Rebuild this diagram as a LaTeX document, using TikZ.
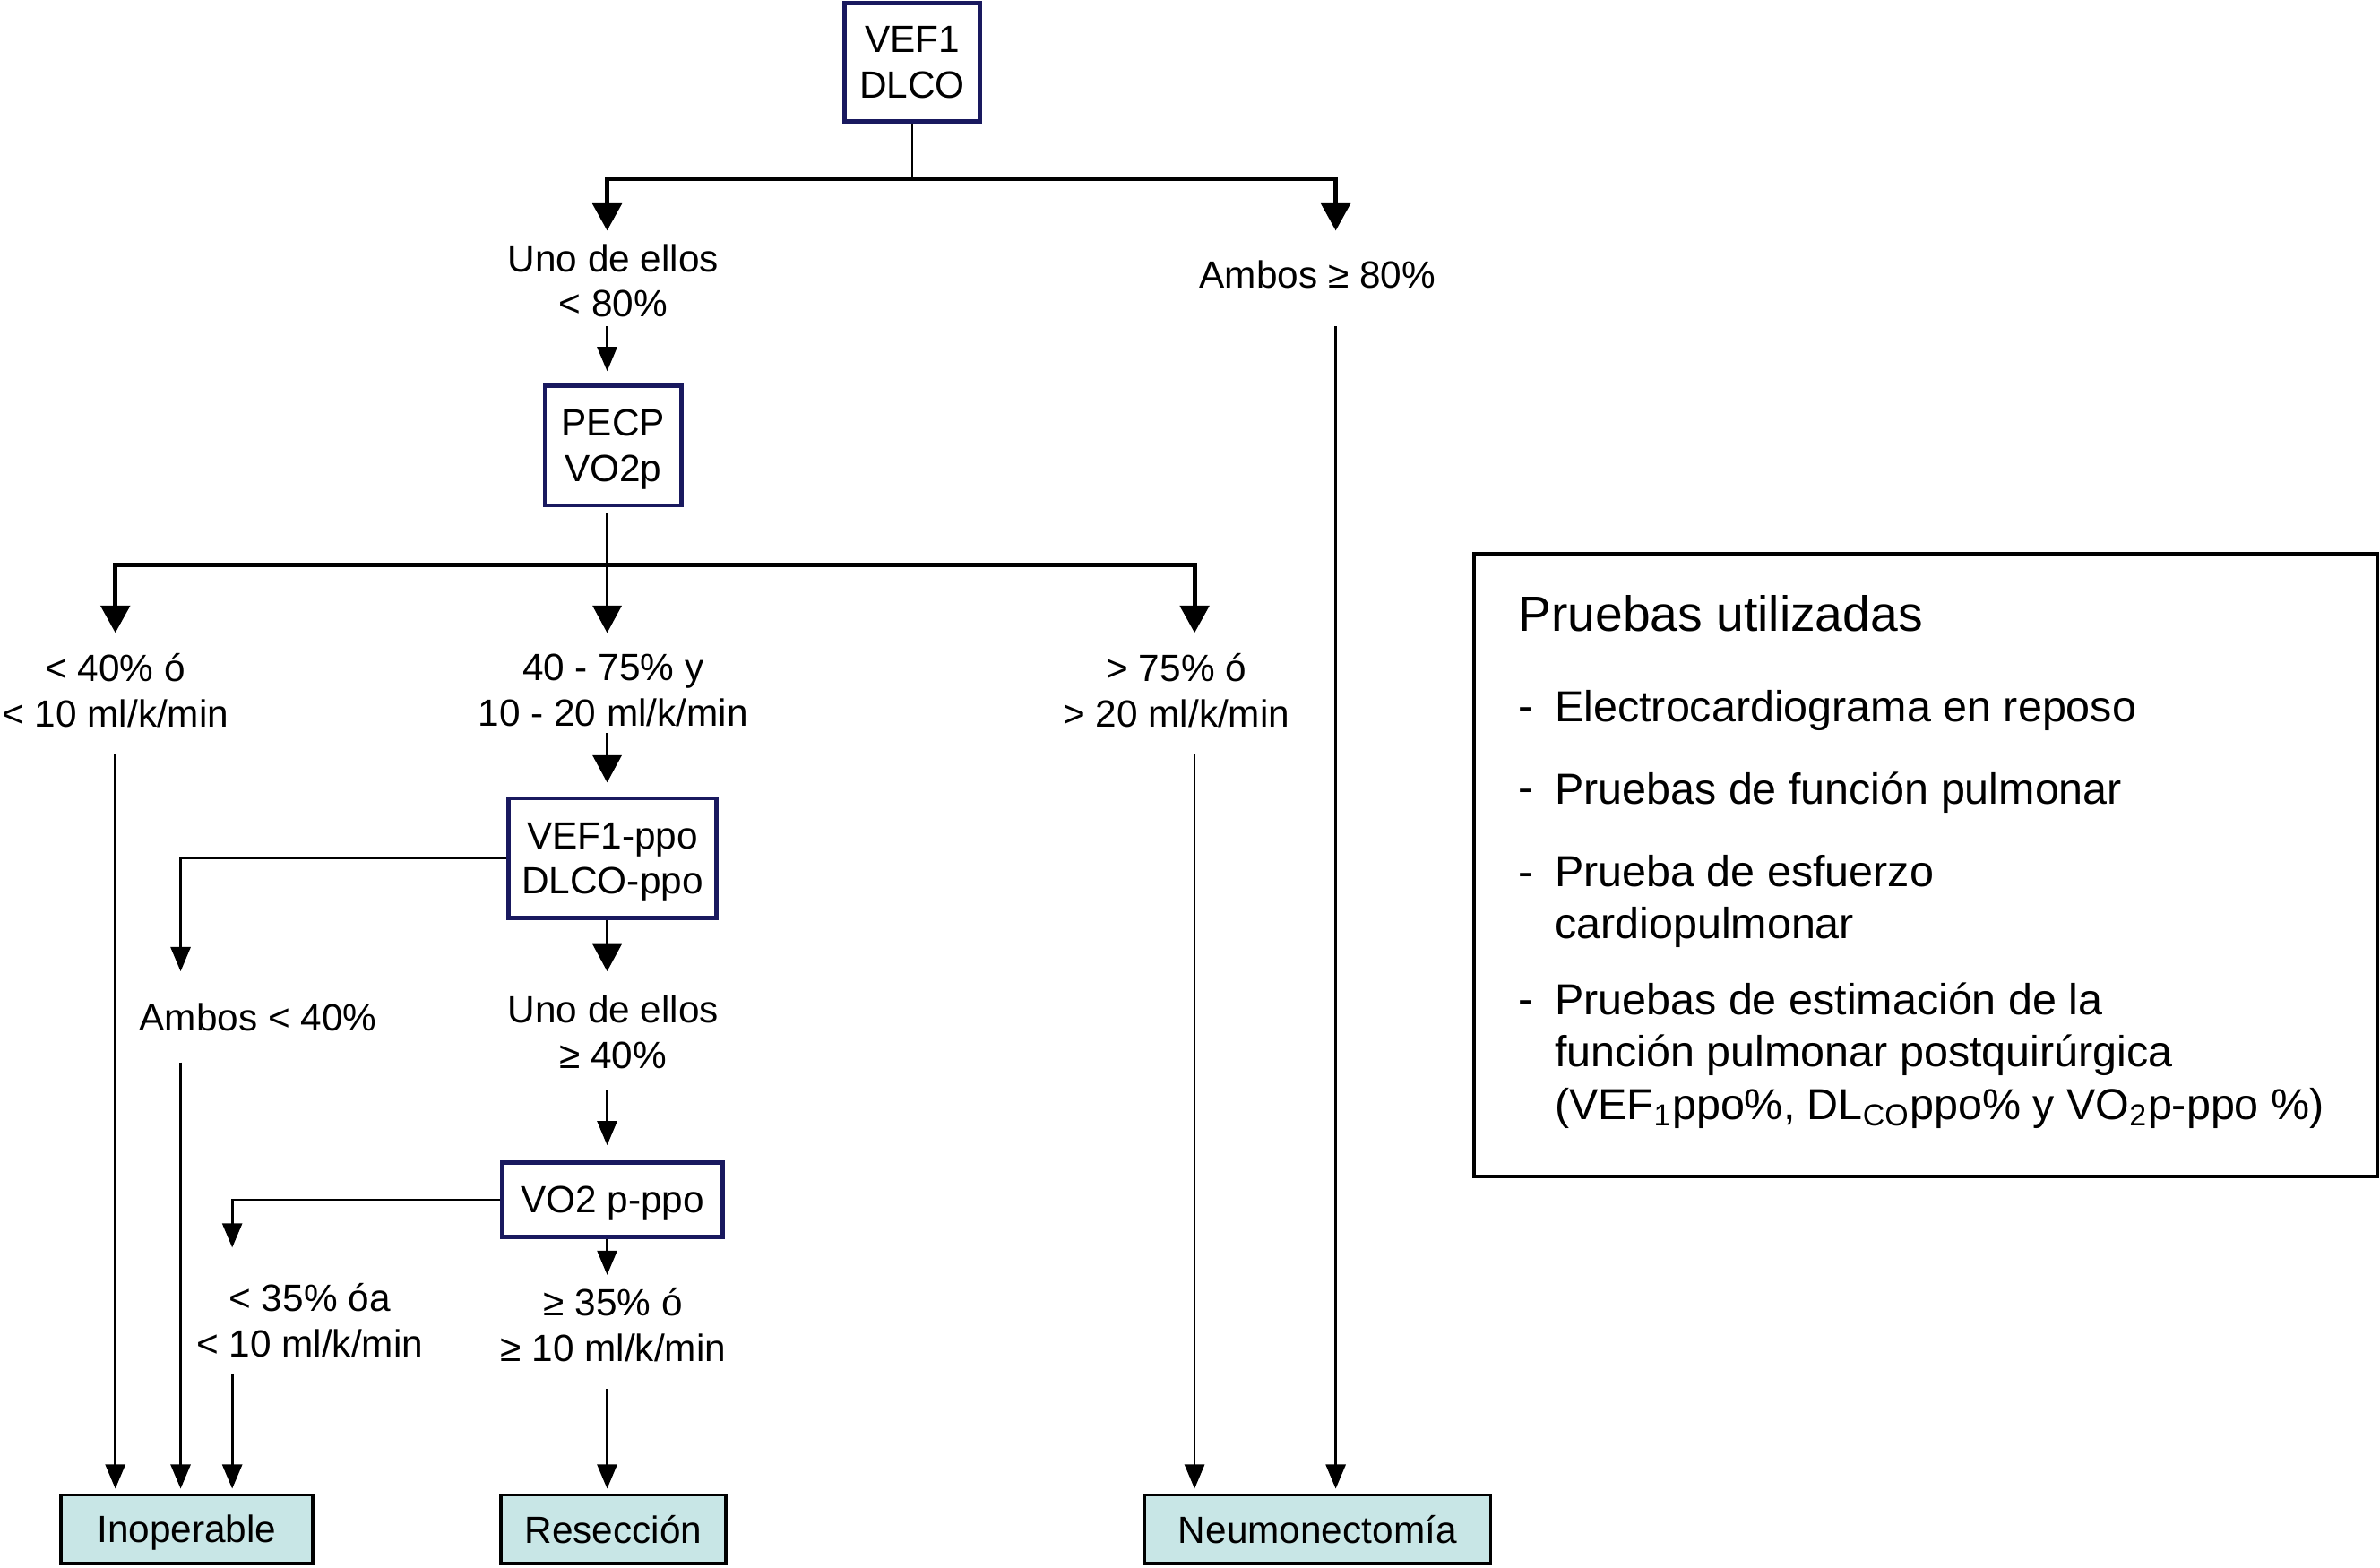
\documentclass[tikz,border=0pt]{standalone}
\usepackage{fontspec}
\setmainfont{Liberation Sans}
\usetikzlibrary{arrows.meta}
\definecolor{navy}{RGB}{25,25,95}
\definecolor{cyanfill}{RGB}{200,230,230}
\begin{document}
\begin{tikzpicture}[x=0.5pt,y=-0.5pt,
  lbl/.style={align=center,inner sep=0pt,font=\fontsize{12.5}{15}\selectfont},
  testbox/.style={draw=navy,line width=1.4pt,align=center,inner sep=0pt,text depth=0pt,font=\fontsize{12.5}{15}\selectfont},
  endbox/.style={draw=black,line width=1.1pt,fill=cyanfill,inner sep=0pt,text depth=0pt,minimum height=22.5pt,font=\fontsize{12.5}{15}\selectfont},
  legtext/.style={anchor=west,align=left,inner sep=0pt,font=\fontsize{14.3}{17.25}\selectfont},
  thk/.style={line width=1.5pt},
  thn/.style={line width=0.8pt},
  bigarr/.style={-{Triangle[length=9pt,width=9.5pt]}},
  smallarr/.style={-{Triangle[length=8pt,width=6.5pt]}},
]
\useasboundingbox (0,0) rectangle (1568,1033);

% top box
\node[testbox,minimum width=44.5pt,minimum height=39pt] (n1) at (601,41) {VEF1\\DLCO};
\coordinate (j1) at (601,118);
\coordinate (a1) at (400,152);
\coordinate (a2) at (880,152);
\draw[thn] (n1.south) -- (j1);
\draw[thk,bigarr] (j1) -| (a1);
\draw[thk,bigarr] (j1) -| (a2);

\node[lbl] (l1) at (404,185) {Uno de ellos\\< 80\%};
\node[lbl] (l2) at (868,181) {Ambos ≥ 80\%};

% PECP
\node[testbox,minimum width=45pt,minimum height=39.5pt] (p1) at (404,293.5) {PECP\\VO2p};
\coordinate (s1) at (400,215);
\draw[thn,smallarr,shorten >=4pt] (s1) -- (s1 |- p1.north);

\coordinate (j2) at (400,372);
\coordinate (a3) at (76,417);
\coordinate (a4) at (400,417);
\coordinate (a5) at (787,417);
\draw[thn,bigarr,shorten <=2pt] (p1.south -| a4) -- (a4);
\draw[thk,bigarr] (j2) -| (a3);
\draw[thk,bigarr] (j2) -| (a5);

\node[lbl] (l3) at (76,455) {< 40\% ó\\< 10 ml/k/min};
\node[lbl] (l4) at (404,455) {40 - 75\% y\\10 - 20 ml/k/min};
\node[lbl] (l5) at (775,455) {> 75\% ó\\> 20 ml/k/min};

% VEF1-ppo
\node[testbox,minimum width=68.5pt,minimum height=39.5pt] (p2) at (403.5,565.5) {VEF1-ppo\\DLCO-ppo};
\coordinate (s4) at (400,483);
\draw[thn,bigarr,shorten >=4.5pt] (s4) -- (s4 |- p2.north);
\coordinate (a6) at (119,640);
\draw[thn,smallarr] (p2.west) -| (a6);
\coordinate (a8) at (400,640);
\draw[thn,bigarr] (p2.south -| a8) -- (a8);

\node[lbl] (l6) at (170,670) {Ambos < 40\%};
\node[lbl] (l7) at (404,680) {Uno de ellos\\≥ 40\%};

% VO2 p-ppo
\node[testbox,minimum width=72.5pt,minimum height=24.5pt] (p3) at (403.5,790.5) {VO2 p-ppo};
\coordinate (s7) at (400,718);
\draw[thn,smallarr,shorten >=5pt] (s7) -- (s7 |- p3.north);
\coordinate (a7) at (153,822);
\draw[thn,smallarr] (p3.west) -| (a7);
\coordinate (a9) at (400,840);
\draw[thn,smallarr] (p3.south -| a9) -- (a9);

\node[lbl] (l8) at (204,870) {< 35\% óa\\< 10 ml/k/min};
\node[lbl] (l9) at (404,873) {≥ 35\% ó\\≥ 10 ml/k/min};

% end boxes
\node[endbox,minimum width=83pt] (b1) at (123,1007.5) {Inoperable};
\node[endbox,minimum width=74pt] (b2) at (404,1007.5) {Resección};
\node[endbox,minimum width=114pt] (b3) at (868,1007.5) {Neumonectomía};

\coordinate (t1) at (76,497);
\coordinate (t2) at (119,700);
\coordinate (t3) at (153,905);
\coordinate (t4) at (400,915);
\coordinate (t5) at (787,497);
\coordinate (t6) at (880,215);
\draw[thn,smallarr,shorten >=1.5pt] (t1) -- (t1 |- b1.north);
\draw[thn,smallarr,shorten >=1.5pt] (t2) -- (t2 |- b1.north);
\draw[thn,smallarr,shorten >=1.5pt] (t3) -- (t3 |- b1.north);
\draw[thn,smallarr,shorten >=1.5pt] (t4) -- (t4 |- b2.north);
\draw[thn,smallarr,shorten >=1.5pt] (t5) -- (t5 |- b3.north);
\draw[thn,smallarr,shorten >=1.5pt] (t6) -- (t6 |- b3.north);

% legend
\node[draw,line width=1.2pt,minimum width=297.5pt,minimum height=205pt,inner sep=0pt] (leg) at (1268.5,570) {};
\node[anchor=west,inner sep=0pt,font=\fontsize{16.3}{19}\selectfont] (lt) at (1000,404) {Pruebas utilizadas};
\node[legtext] (d1) at (1000,468) {-\vphantom{Ep}};
\node[legtext] (i1) at (1024,468) {Electrocardiograma en reposo};
\node[legtext] (d2) at (1000,522) {-\vphantom{Ep}};
\node[legtext] (i2) at (1024,522) {Pruebas de función pulmonar};
\node[legtext] (d3) at (1000,577) {-\vphantom{Ep}};
\node[legtext] (i3) at (1024,594) {Prueba de esfuerzo\\cardiopulmonar};
\node[legtext] (d4) at (1000,661) {-\vphantom{Ep}};
\node[legtext] (i4) at (1024,695.5) {Pruebas de estimación de la\\función pulmonar postquirúrgica\\(VEF\textsubscript{1}ppo\%, DL\textsubscript{CO}ppo\% y VO\textsubscript{2}p-ppo \%)};
\end{tikzpicture}
\end{document}
